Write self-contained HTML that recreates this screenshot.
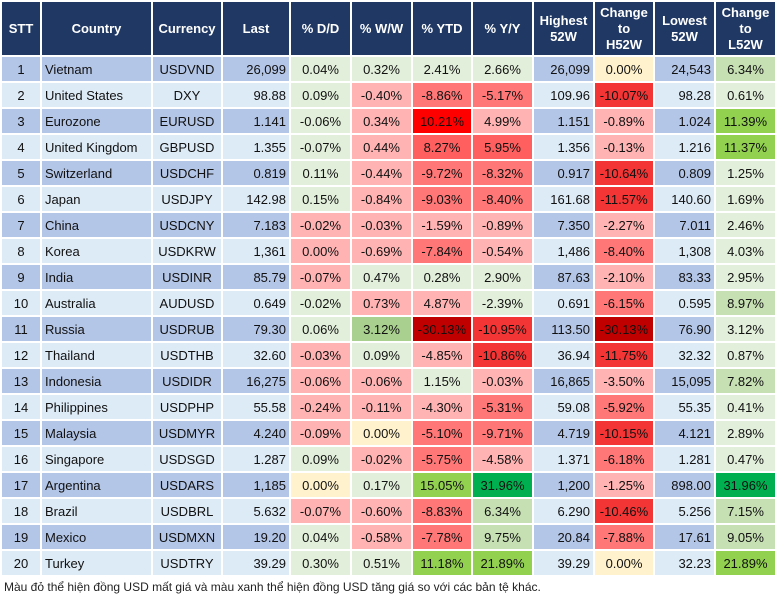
<!DOCTYPE html>
<html><head><meta charset="utf-8"><style>
body{margin:0;background:#fff;font-family:"Liberation Sans",Arial,sans-serif;}
table{position:absolute;left:0;top:0;width:775px;border-collapse:collapse;table-layout:fixed;font-size:13px;color:#111;}
td,th{border:2px solid #fff;padding:0 3px;height:24px;white-space:nowrap;overflow:hidden;}
th{background:#203864;color:#fff;font-weight:bold;height:53px;text-align:center;line-height:16px;padding:0 1px;}
tr.o td{background:#b4c6e7;} tr.e td{background:#ddebf7;}
td.c{text-align:center} td.r{text-align:right} td.l{text-align:left}
tr td.g1{background:#e2efda} tr td.g2{background:#c6e0b4} tr td.g3{background:#92d050} tr td.g4{background:#00b050} tr td.gw{background:#a9d08e}
tr td.y{background:#fff2cc} tr td.r1{background:#ffb3b3} tr td.r2{background:#ff7777} tr td.r3{background:#f33535} tr td.r4{background:#c00000} tr td.r0{background:#ff0000}
.foot{position:absolute;left:4px;top:580px;font-size:12px;color:#222;}
</style></head><body>
<table>
<colgroup><col style="width:40px"><col style="width:111px"><col style="width:70px"><col style="width:68px"><col style="width:61px"><col style="width:61px"><col style="width:60px"><col style="width:61px"><col style="width:61px"><col style="width:60px"><col style="width:61px"><col style="width:61px"></colgroup>
<tr><th>STT</th><th>Country</th><th>Currency</th><th>Last</th><th>% D/D</th><th>% W/W</th><th>% YTD</th><th>% Y/Y</th><th>Highest<br>52W</th><th>Change<br>to<br>H52W</th><th>Lowest<br>52W</th><th>Change<br>to<br>L52W</th></tr>
<tr class="o"><td class="c">1</td><td>Vietnam</td><td class="c">USDVND</td><td class="r">26,099</td><td class="c g1">0.04%</td><td class="c g1">0.32%</td><td class="c g1">2.41%</td><td class="c g1">2.66%</td><td class="r">26,099</td><td class="c y">0.00%</td><td class="r">24,543</td><td class="c g2">6.34%</td></tr>
<tr class="e"><td class="c">2</td><td>United States</td><td class="c">DXY</td><td class="r">98.88</td><td class="c g1">0.09%</td><td class="c r1">-0.40%</td><td class="c r2">-8.86%</td><td class="c r2">-5.17%</td><td class="r">109.96</td><td class="c r3">-10.07%</td><td class="r">98.28</td><td class="c g1">0.61%</td></tr>
<tr class="o"><td class="c">3</td><td>Eurozone</td><td class="c">EURUSD</td><td class="r">1.141</td><td class="c g1">-0.06%</td><td class="c r1">0.34%</td><td class="c r0">10.21%</td><td class="c r1">4.99%</td><td class="r">1.151</td><td class="c r1">-0.89%</td><td class="r">1.024</td><td class="c g3">11.39%</td></tr>
<tr class="e"><td class="c">4</td><td>United Kingdom</td><td class="c">GBPUSD</td><td class="r">1.355</td><td class="c g1">-0.07%</td><td class="c r1">0.44%</td><td class="c r2" style="background:#ff5f5f">8.27%</td><td class="c r2" style="background:#ff5f5f">5.95%</td><td class="r">1.356</td><td class="c r1">-0.13%</td><td class="r">1.216</td><td class="c g3">11.37%</td></tr>
<tr class="o"><td class="c">5</td><td>Switzerland</td><td class="c">USDCHF</td><td class="r">0.819</td><td class="c g1">0.11%</td><td class="c r1">-0.44%</td><td class="c r2">-9.72%</td><td class="c r2">-8.32%</td><td class="r">0.917</td><td class="c r3">-10.64%</td><td class="r">0.809</td><td class="c g1">1.25%</td></tr>
<tr class="e"><td class="c">6</td><td>Japan</td><td class="c">USDJPY</td><td class="r">142.98</td><td class="c g1">0.15%</td><td class="c r1">-0.84%</td><td class="c r2">-9.03%</td><td class="c r2">-8.40%</td><td class="r">161.68</td><td class="c r3">-11.57%</td><td class="r">140.60</td><td class="c g1">1.69%</td></tr>
<tr class="o"><td class="c">7</td><td>China</td><td class="c">USDCNY</td><td class="r">7.183</td><td class="c r1">-0.02%</td><td class="c r1">-0.03%</td><td class="c r1">-1.59%</td><td class="c r1">-0.89%</td><td class="r">7.350</td><td class="c r1">-2.27%</td><td class="r">7.011</td><td class="c g1">2.46%</td></tr>
<tr class="e"><td class="c">8</td><td>Korea</td><td class="c">USDKRW</td><td class="r">1,361</td><td class="c r1">0.00%</td><td class="c r1">-0.69%</td><td class="c r2">-7.84%</td><td class="c r1">-0.54%</td><td class="r">1,486</td><td class="c r2">-8.40%</td><td class="r">1,308</td><td class="c g1">4.03%</td></tr>
<tr class="o"><td class="c">9</td><td>India</td><td class="c">USDINR</td><td class="r">85.79</td><td class="c r1">-0.07%</td><td class="c g1">0.47%</td><td class="c g1">0.28%</td><td class="c g1">2.90%</td><td class="r">87.63</td><td class="c r1">-2.10%</td><td class="r">83.33</td><td class="c g1">2.95%</td></tr>
<tr class="e"><td class="c">10</td><td>Australia</td><td class="c">AUDUSD</td><td class="r">0.649</td><td class="c g1">-0.02%</td><td class="c r1">0.73%</td><td class="c r1">4.87%</td><td class="c g1">-2.39%</td><td class="r">0.691</td><td class="c r2">-6.15%</td><td class="r">0.595</td><td class="c g2">8.97%</td></tr>
<tr class="o"><td class="c">11</td><td>Russia</td><td class="c">USDRUB</td><td class="r">79.30</td><td class="c g1">0.06%</td><td class="c gw">3.12%</td><td class="c r4">-30.13%</td><td class="c r3">-10.95%</td><td class="r">113.50</td><td class="c r4">-30.13%</td><td class="r">76.90</td><td class="c g1">3.12%</td></tr>
<tr class="e"><td class="c">12</td><td>Thailand</td><td class="c">USDTHB</td><td class="r">32.60</td><td class="c r1">-0.03%</td><td class="c g1">0.09%</td><td class="c r1">-4.85%</td><td class="c r3">-10.86%</td><td class="r">36.94</td><td class="c r3">-11.75%</td><td class="r">32.32</td><td class="c g1">0.87%</td></tr>
<tr class="o"><td class="c">13</td><td>Indonesia</td><td class="c">USDIDR</td><td class="r">16,275</td><td class="c r1">-0.06%</td><td class="c r1">-0.06%</td><td class="c g1">1.15%</td><td class="c r1">-0.03%</td><td class="r">16,865</td><td class="c r1">-3.50%</td><td class="r">15,095</td><td class="c g2">7.82%</td></tr>
<tr class="e"><td class="c">14</td><td>Philippines</td><td class="c">USDPHP</td><td class="r">55.58</td><td class="c r1">-0.24%</td><td class="c r1">-0.11%</td><td class="c r1">-4.30%</td><td class="c r2">-5.31%</td><td class="r">59.08</td><td class="c r2">-5.92%</td><td class="r">55.35</td><td class="c g1">0.41%</td></tr>
<tr class="o"><td class="c">15</td><td>Malaysia</td><td class="c">USDMYR</td><td class="r">4.240</td><td class="c r1">-0.09%</td><td class="c y">0.00%</td><td class="c r2">-5.10%</td><td class="c r2">-9.71%</td><td class="r">4.719</td><td class="c r3">-10.15%</td><td class="r">4.121</td><td class="c g1">2.89%</td></tr>
<tr class="e"><td class="c">16</td><td>Singapore</td><td class="c">USDSGD</td><td class="r">1.287</td><td class="c g1">0.09%</td><td class="c r1">-0.02%</td><td class="c r2">-5.75%</td><td class="c r1">-4.58%</td><td class="r">1.371</td><td class="c r2">-6.18%</td><td class="r">1.281</td><td class="c g1">0.47%</td></tr>
<tr class="o"><td class="c">17</td><td>Argentina</td><td class="c">USDARS</td><td class="r">1,185</td><td class="c y">0.00%</td><td class="c g1">0.17%</td><td class="c g3">15.05%</td><td class="c g4">31.96%</td><td class="r">1,200</td><td class="c r1">-1.25%</td><td class="r">898.00</td><td class="c g4">31.96%</td></tr>
<tr class="e"><td class="c">18</td><td>Brazil</td><td class="c">USDBRL</td><td class="r">5.632</td><td class="c r1">-0.07%</td><td class="c r1">-0.60%</td><td class="c r2">-8.83%</td><td class="c g2">6.34%</td><td class="r">6.290</td><td class="c r3">-10.46%</td><td class="r">5.256</td><td class="c g2">7.15%</td></tr>
<tr class="o"><td class="c">19</td><td>Mexico</td><td class="c">USDMXN</td><td class="r">19.20</td><td class="c g1">0.04%</td><td class="c r1">-0.58%</td><td class="c r2">-7.78%</td><td class="c g2">9.75%</td><td class="r">20.84</td><td class="c r2">-7.88%</td><td class="r">17.61</td><td class="c g2">9.05%</td></tr>
<tr class="e"><td class="c">20</td><td>Turkey</td><td class="c">USDTRY</td><td class="r">39.29</td><td class="c g1">0.30%</td><td class="c g1">0.51%</td><td class="c g3">11.18%</td><td class="c g3">21.89%</td><td class="r">39.29</td><td class="c y">0.00%</td><td class="r">32.23</td><td class="c g3">21.89%</td></tr>
</table>
<div class="foot">Màu đỏ thể hiện đồng USD mất giá và màu xanh thể hiện đồng USD tăng giá so với các bản tệ khác.</div>
</body></html>
